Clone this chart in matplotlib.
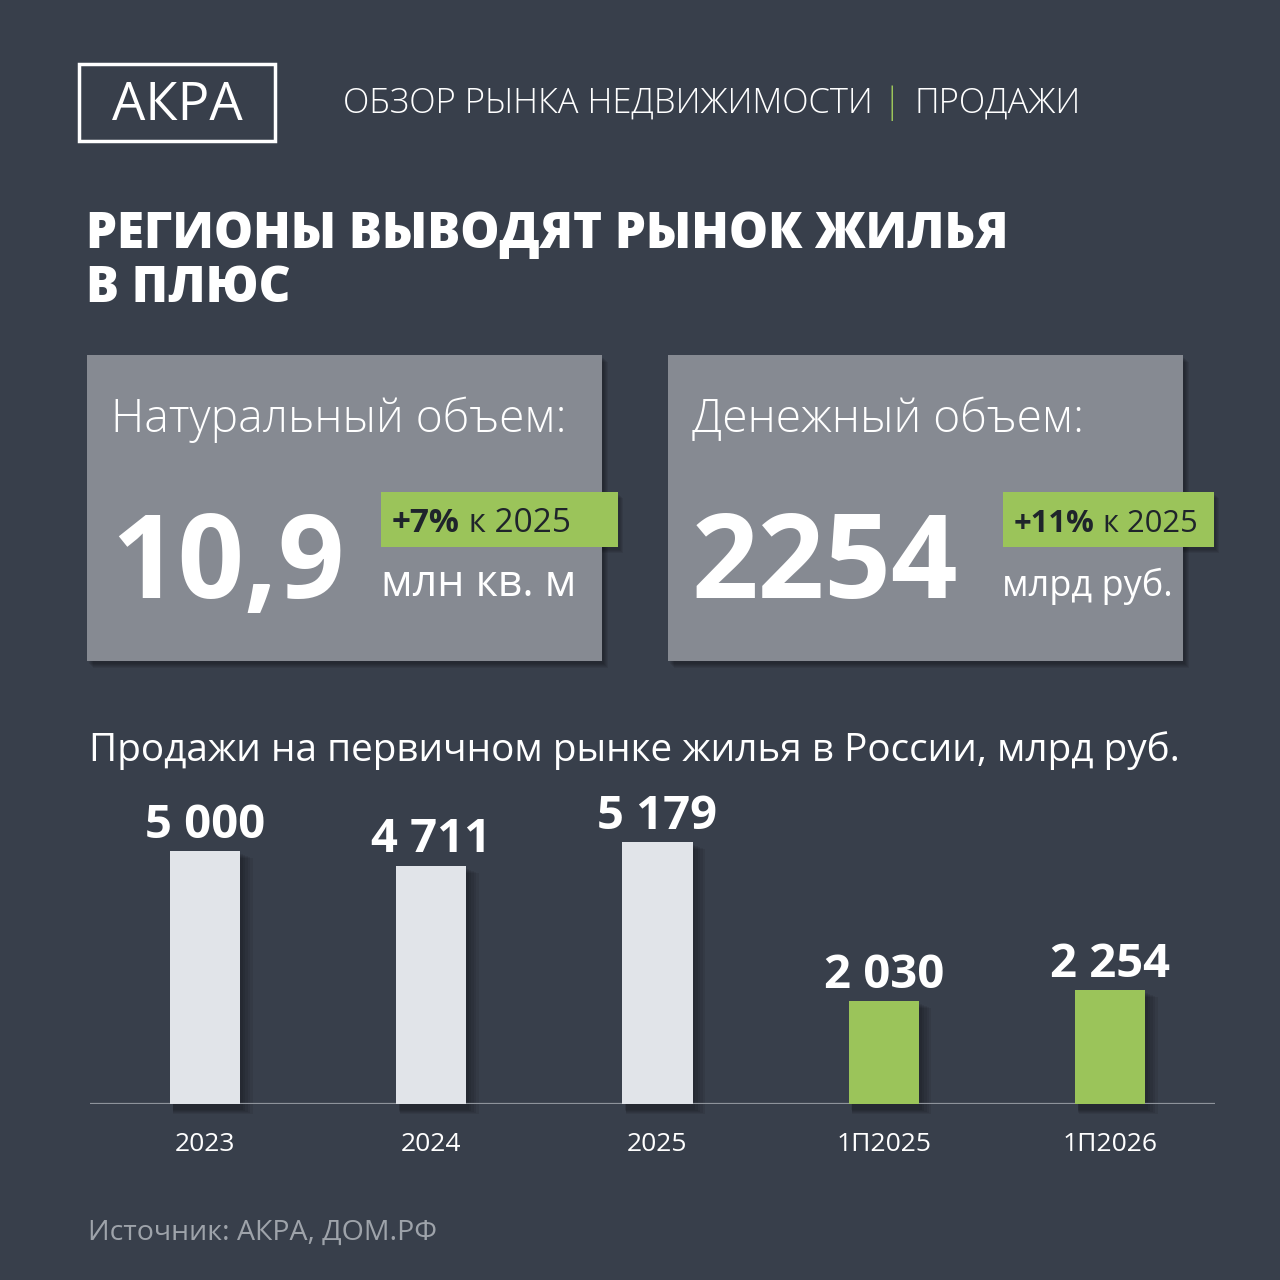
import matplotlib.pyplot as plt
from matplotlib.patches import Rectangle

# данные графика
categories = ['2023', '2024', '2025', '1П2025', '1П2026']
values = [5000, 4711, 5179, 2030, 2254]
value_labels = ['5 000', '4 711', '5 179', '2 030', '2 254']
highlight = [False, False, False, True, True]

# карточки
card_titles = ['Натуральный объем:', 'Денежный объем:']
card_values = ['10,9', '2254']
card_units = ['млн кв. м', 'млрд руб.']
card_growth = ['+7%', '+11%']
card_growth_rest = [' к 2025', ' к 2025']

BG = '#383f4b'
CARD = '#868a92'
GREEN = '#9bc45a'
BAR = '#e1e4e9'
DARK = '#1f242b'
WHITE = '#ffffff'

plt.rcParams['font.family'] = ['Open Sans', 'DejaVu Sans']

fig = plt.figure(figsize=(12.8, 12.8), dpi=100, facecolor=BG)

# фоновая ось в пикселях
bg = fig.add_axes([0, 0, 1, 1])
bg.set_xlim(0, 1280)
bg.set_ylim(1280, 0)
bg.axis('off')


def shadow(x, y, w, h, layers=5):
    for k in range(layers):
        bg.add_patch(Rectangle((x + 2 + k, y + 3 + k), w, h, color='black',
                               alpha=0.07, lw=0, zorder=1))


# логотип
bg.add_patch(Rectangle((79, 64), 196, 77, fill=False, ec=WHITE, lw=2.5, zorder=3))
bg.text(177, 120, 'АКРА', color=WHITE, fontsize=38, ha='center', va='baseline', zorder=4)

# шапка
bg.text(343, 113, 'ОБЗОР РЫНКА НЕДВИЖИМОСТИ', color=WHITE, fontsize=24.8,
        fontweight='light', va='baseline')
bg.text(892, 113, '|', color=GREEN, fontsize=24.8, fontweight='light', ha='center',
        va='baseline')
bg.text(915, 113, 'ПРОДАЖИ', color=WHITE, fontsize=24.8, fontweight='light', va='baseline')

# заголовок
bg.text(86, 248, 'РЕГИОНЫ ВЫВОДЯТ РЫНОК ЖИЛЬЯ', color=WHITE, fontsize=35.5,
        fontweight='heavy', va='baseline')
bg.text(86, 302, 'В ПЛЮС', color=WHITE, fontsize=35.5, fontweight='heavy', va='baseline')

# карточки
card_x = [87, 668]
for i in range(2):
    x0 = card_x[i]
    shadow(x0, 355, 515, 306)
    bg.add_patch(Rectangle((x0, 355), 515, 306, color=CARD, lw=0, zorder=2))
    bg.text(x0 + 24, 432, card_titles[i], color=WHITE, fontsize=33.3,
            fontweight='light', va='baseline', zorder=4)
    bg.text(x0 + 24, 598, card_values[i], color=WHITE, fontsize=84,
            fontweight='bold', va='baseline', zorder=4)

badge_x = [381, 1003]
badge_w = [237, 211]
unit_x = [381, 1002]
unit_size = [31, 26]
growth_size = [24, 22.2]
for i in range(2):
    bx = badge_x[i]
    shadow(bx, 492, badge_w[i], 55, layers=4)
    bg.add_patch(Rectangle((bx, 492), badge_w[i], 55, color=GREEN, lw=0, zorder=5))
    t1 = bg.text(bx + 11, 532, card_growth[i], color=DARK, fontsize=growth_size[i],
                 fontweight='bold', va='baseline', zorder=6)
    bg.annotate(card_growth_rest[i], xy=(1, 0), xycoords=t1, color=DARK,
                fontsize=growth_size[i], va='bottom', ha='left', zorder=6)
    bg.text(unit_x[i], 596, card_units[i], color=WHITE, fontsize=unit_size[i],
            va='baseline', zorder=4)

# подпись графика
bg.text(89, 761, 'Продажи на первичном рынке жилья в России, млрд руб.',
        color=WHITE, fontsize=27.9, va='baseline')

# источник
bg.text(88, 1240, 'Источник: АКРА, ДОМ.РФ', color='#9ea3aa', fontsize=20.5,
        va='baseline')

# столбчатая диаграмма
ax = fig.add_axes([90 / 1280, 176 / 1280, 1125 / 1280, 303.6 / 1280])
ax.set_facecolor('none')
ax.set_xlim(-0.508, 4.464)
ax.set_ylim(0, 6000)

x = list(range(len(categories)))
colors = [GREEN if h else BAR for h in highlight]
w = 0.31
for k in range(5):
    ax.bar([xi + 0.012 + 0.006 * k for xi in x], [v + 60 for v in values],
           width=w + 0.01 * k, bottom=-120 - 20 * k, color='black', alpha=0.07,
           zorder=1, clip_on=False, lw=0)
ax.bar(x, values, width=w, color=colors, zorder=3, lw=0)
ax.axhline(0, color='#8e939b', lw=1.6, zorder=2)

for xi, v, lab in zip(x, values, value_labels):
    ax.annotate(lab, (xi, v), xytext=(0, 9.5), textcoords='offset points',
                ha='center', va='baseline', color=WHITE, fontsize=34,
                fontweight='bold', zorder=4)

ax.set_xticks(x, categories)
ax.tick_params(axis='x', length=0, pad=20, labelsize=19, labelcolor=WHITE)
ax.set_yticks([])
for s in ax.spines.values():
    s.set_visible(False)

fig.savefig('out.png', dpi=100, facecolor=BG)
